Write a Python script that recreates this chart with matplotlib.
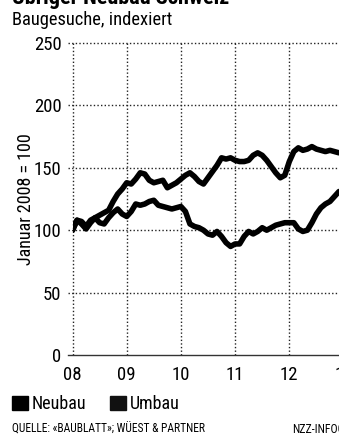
import numpy as np
import pandas as pd
import matplotlib
matplotlib.use("Agg")
import matplotlib.pyplot as plt
from matplotlib import font_manager
from matplotlib.patches import Patch

# schmale Schrift, falls vorhanden
fonts = font_manager.fontManager.ttflist
names = {f.name for f in fonts}
family = 'DejaVu Sans'
for cand in ['Liberation Sans Narrow', 'Roboto Condensed', 'Open Sans Condensed',
             'Noto Sans Condensed', 'Arial Narrow']:
    if cand in names:
        family = cand
        break
plt.rcParams['font.family'] = [family, 'DejaVu Sans']
if family == 'DejaVu Sans' and any(f.name == 'DejaVu Sans' and f.stretch == 'condensed'
                                   for f in fonts):
    plt.rcParams['font.stretch'] = 'condensed'

# Monatswerte Jan. 2008 bis Dez. 2012, Januar 2008 = 100
months = pd.date_range("2008-01-01", "2012-12-01", freq="MS")
neubau = [100, 108, 105, 101, 106, 110, 112, 114, 116, 123, 129, 133,
          138, 137, 141, 146, 145, 140, 138, 139, 140, 134, 136, 138,
          141, 144, 146, 143, 139, 137, 142, 147, 152, 158, 157, 158,
          156, 155, 155, 156, 160, 162, 160, 156, 151, 146, 142, 144,
          155, 163, 166, 164, 165, 167, 165, 164, 163, 164, 163, 162]
umbau = [100, 108, 107, 103, 108, 110, 106, 105, 110, 114, 117, 113,
         111, 115, 121, 120, 121, 123, 124, 120, 119, 118, 117, 118,
         119, 115, 105, 103, 102, 100, 97, 96, 99, 95, 90, 87,
         89, 89, 95, 99, 97, 99, 102, 100, 102, 104, 105, 106,
         106, 106, 101, 99, 100, 106, 113, 118, 121, 123, 127, 131]

year_ticks = [2008, 2009, 2010, 2011, 2012, 2013]
year_labels = ["08", "09", "10", "11", "12", "13"]
y_ticks = [0, 50, 100, 150, 200, 250]

x = months.year + (months.month - 1) / 12.0

W, H = 339, 438
fig = plt.figure(figsize=(W / 100, H / 100), dpi=100)
# rechter Rand liegt knapp ausserhalb des Bildes
ax = fig.add_axes([72.5 / W, (H - 355) / H, 271 / W, 312 / H])
ax.set_xlim(2008, 2013)
ax.set_ylim(0, 250)

for spine in ax.spines.values():
    spine.set_visible(False)

dot = (0, (1, 1.6))
for yv in y_ticks[1:]:
    ax.plot([2007.92, 2013], [yv, yv], color='#222222', lw=1.0, ls=dot,
            clip_on=False, zorder=1)
for xv in year_ticks[:-1]:
    ax.plot([xv, xv], [0, 250], color='#222222', lw=1.0, ls=dot,
            clip_on=False, zorder=1)
ax.plot([2007.92, 2013], [0, 0], color='#333333', lw=1.0, clip_on=False,
        zorder=1)

ax.plot(x, umbau, color='black', lw=4.0, solid_joinstyle='round',
        solid_capstyle='round', zorder=3)
ax.plot(x, neubau, color='black', lw=4.0, solid_joinstyle='round',
        solid_capstyle='round', zorder=3)

ax.set_xticks(year_ticks)
ax.set_xticklabels(year_labels, fontsize=13.5)
ax.set_yticks(y_ticks)
ax.set_yticklabels([str(v) for v in y_ticks], fontsize=13.5)
ax.tick_params(length=0, pad=8)
ax.tick_params(axis='x', pad=8)
ax.set_ylabel("Januar 2008 = 100", fontsize=13, labelpad=-1)

fig.text(12 / W, 1 - 4 / H, "Übriger Neubau Schweiz", fontsize=16,
         fontweight='bold', va='baseline', ha='left')
fig.text(12 / W, 1 - 25 / H, "Baugesuche, indexiert", fontsize=13.3,
         va='baseline', ha='left')

handles = [Patch(facecolor='black', edgecolor='black', label='Neubau'),
           Patch(facecolor='#111111', edgecolor='#111111', label='Umbau')]
fig.legend(handles=handles, loc='upper left', bbox_to_anchor=(5 / W, 1 - 388 / H),
           ncol=2, frameon=False, fontsize=13, handlelength=0.9,
           handleheight=0.9, handletextpad=0.2, columnspacing=1.3,
           borderaxespad=0)

fig.text(12 / W, 1 - 433 / H, "QUELLE: «BAUBLATT»; WÜEST & PARTNER",
         fontsize=8.3, va='baseline', ha='left')
fig.text(292 / W, 1 - 433 / H, "NZZ-INFOGRAFIK", fontsize=8.5,
         va='baseline', ha='left')

fig.savefig("out.png", dpi=100, facecolor='white')
